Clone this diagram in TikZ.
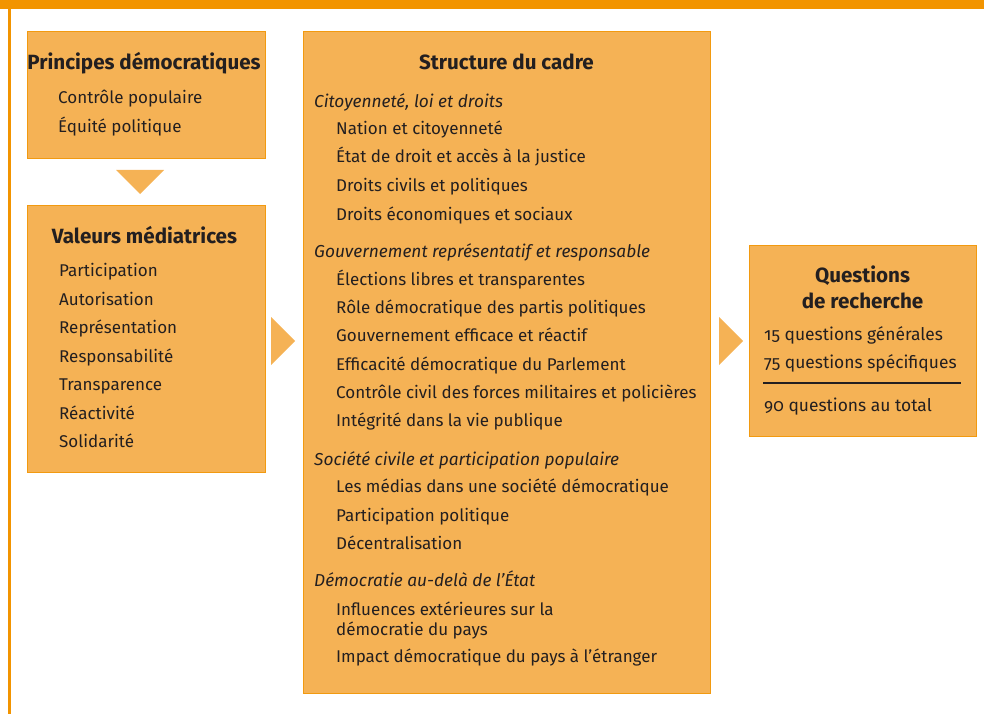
\documentclass[tikz,border=0pt]{standalone}
\usepackage{fontspec}
\setmainfont{Fira Sans}[Numbers=OldStyle]
\definecolor{barc}{HTML}{F29400}
\definecolor{boxfill}{HTML}{F5B255}
\definecolor{boxline}{HTML}{F29A10}
\definecolor{ink}{HTML}{231F20}
\tikzset{
  panel/.style={draw=boxline, fill=boxfill, line width=1pt, inner sep=0pt},
  head/.style={font=\fontsize{20.6}{24}\selectfont\bfseries, text=ink, anchor=base, inner sep=0pt},
  cat/.style={font=\fontsize{17.3}{20}\selectfont\itshape, text=ink, anchor=base west, inner sep=0pt},
  itm/.style={font=\fontsize{17}{20}\selectfont, text=ink, anchor=base west, inner sep=0pt},
  qitm/.style={font=\fontsize{17.4}{20}\selectfont, text=ink, anchor=base west, inner sep=0pt},
  marker/.style={fill=boxfill}
}
\newcommand\It[3]{\node[itm] (#1) at (#2) {#3};}
\newcommand\Ct[3]{\node[cat] (#1) at (#2) {#3};}
\begin{document}
\begin{tikzpicture}[x=1pt,y=-1pt]
\useasboundingbox (0,0) rectangle (984,714);
\fill[barc] (0,0) rectangle (984,9);
\fill[barc] (7.5,9) rectangle (10.5,714);

% panels
\node[panel, minimum width=238pt, minimum height=127pt] (pr) at (146,95) {};
\node[panel, minimum width=238pt, minimum height=267pt] (va) at (146,338.5) {};
\node[panel, minimum width=407pt, minimum height=661pt] (st) at (506.5,362.5) {};
\node[panel, minimum width=227pt, minimum height=191pt] (qu) at (862.5,340.5) {};

% markers
\fill[marker] (116,170) -- (164,170) -- (140,194) -- cycle;
\fill[marker] (271,317) -- (271,365) -- (295,341) -- cycle;
\fill[marker] (719,317) -- (719,365) -- (743,341) -- cycle;

% Principes
\node[head] (prh) at (144,69.3) {Principes démocratiques};
\It{pr1}{58,104}{Contrôle populaire}
\It{pr2}{58,132.6}{Équité politique}

% Valeurs
\node[head] (vah) at (144.5,243.3) {Valeurs médiatrices};
\It{va1}{59,276.7}{Participation}
\It{va2}{59,305.2}{Autorisation}
\It{va3}{59,333.7}{Représentation}
\It{va4}{59,362.2}{Responsabilité}
\It{va5}{59,390.7}{Transparence}
\It{va6}{59,419.2}{Réactivité}
\It{va7}{59,447.7}{Solidarité}

% Structure
\node[head] (sth) at (506.5,70) {Structure du cadre};
\Ct{c1}{314,107.3}{Citoyenneté, loi et droits}
\It{s1}{336,134.3}{Nation et citoyenneté}
\It{s2}{336,162.9}{État de droit et accès à la justice}
\It{s3}{336,191.5}{Droits civils et politiques}
\It{s4}{336,220}{Droits économiques et sociaux}
\Ct{c2}{314,257.3}{Gouvernement représentatif et responsable}
\It{s5}{336,285}{Élections libres et transparentes}
\It{s6}{336,313.3}{Rôle démocratique des partis politiques}
\It{s7}{336,341.7}{Gouvernement efficace et réactif}
\It{s8}{336,370}{Efficacité démocratique du Parlement}
\It{s9}{336,398.3}{Contrôle civil des forces militaires et policières}
\It{s10}{336,426.7}{Intégrité dans la vie publique}
\Ct{c3}{314,465}{Société civile et participation populaire}
\It{s11}{336,492.7}{Les médias dans une société démocratique}
\It{s12}{336,521.2}{Participation politique}
\It{s13}{336,549.5}{Décentralisation}
\Ct{c4}{314,586.7}{Démocratie au-delà de l’État}
\It{s14}{336,615}{Influences extérieures sur la}
\It{s15}{336,635}{démocratie du pays}
\It{s16}{336,662.7}{Impact démocratique du pays à l’étranger}

% Questions
\node[head] (quh1) at (862.5,282.7) {Questions};
\node[head] (quh2) at (862.5,308.3) {de recherche};
\node[qitm] (q1) at (764,340) {15 questions générales};
\node[qitm] (q2) at (764,368.3) {75 questions spécifiques};
\coordinate (rl) at (763,383.3);
\coordinate (rr) at (961,383.3);
\draw[ink, line width=2pt] (rl) -- (rr);
\node[qitm] (q3) at (764,411.7) {90 questions au total};
\end{tikzpicture}
\end{document}
